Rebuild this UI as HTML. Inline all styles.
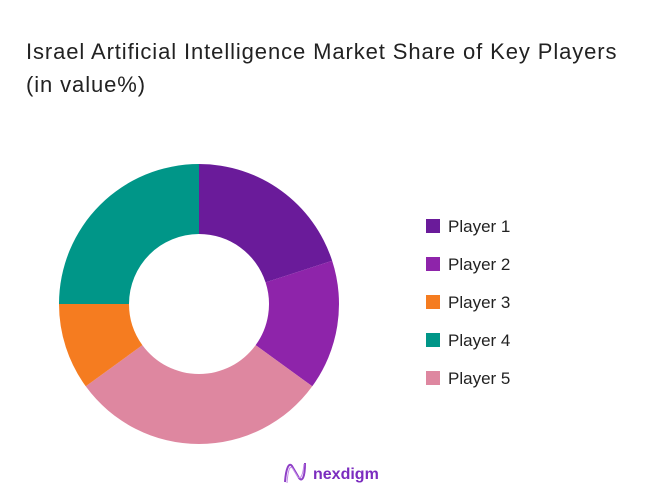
<!DOCTYPE html>
<html><head><meta charset="utf-8">
<style>
body{margin:0;width:656px;height:494px;background:#fff;font-family:"Liberation Sans",sans-serif;overflow:hidden;position:relative}
.title{position:absolute;left:26px;top:35px;font-size:22px;line-height:33px;color:#222;letter-spacing:0.9px}
</style></head><body>
<div class="title">Israel Artificial Intelligence Market Share of Key Players<br>(in value%)</div>
<svg id="chart" width="656" height="494" style="position:absolute;left:0;top:0"></svg>
<script>
const labels=["Player 1","Player 2","Player 5","Player 3","Player 4"];
const values=[20,15,30,10,25];
const colors=["#6a1b9a","#8e24aa","#de87a0","#f57c20","#009688"];
const legendLabels=["Player 1","Player 2","Player 3","Player 4","Player 5"];
const legendColors=["#6a1b9a","#8e24aa","#f57c20","#009688","#de87a0"];
const NS="http://www.w3.org/2000/svg";
const svg=document.getElementById('chart');
const cx=199,cy=304,R=140,r=70;
const total=values.reduce((a,b)=>a+b,0);
let a0=0;
function pt(rad,ang){return [cx+rad*Math.sin(ang),cy-rad*Math.cos(ang)];}
values.forEach((v,i)=>{
  const a1=a0+v/total*2*Math.PI;
  const large=(a1-a0)>Math.PI?1:0;
  const [x1,y1]=pt(R,a0),[x2,y2]=pt(R,a1),[x3,y3]=pt(r,a1),[x4,y4]=pt(r,a0);
  const p=document.createElementNS(NS,'path');
  p.setAttribute('d',`M${x1},${y1}A${R},${R} 0 ${large} 1 ${x2},${y2}L${x3},${y3}A${r},${r} 0 ${large} 0 ${x4},${y4}Z`);
  p.setAttribute('fill',colors[i]);
  
  
  svg.appendChild(p);
  a0=a1;
});
legendLabels.forEach((l,i)=>{
  const y=227+i*38;
  const g=document.createElementNS(NS,'g');
  
  
  const rc=document.createElementNS(NS,'rect');
  rc.setAttribute('x',426);rc.setAttribute('y',y-8);rc.setAttribute('width',14);rc.setAttribute('height',14);
  rc.setAttribute('fill',legendColors[i]);
  const t=document.createElementNS(NS,'text');
  t.setAttribute('x',448);t.setAttribute('y',y+5);t.setAttribute('font-size',17);t.setAttribute('fill','#222');
  t.setAttribute('font-family','Liberation Sans, sans-serif');
  t.textContent=l;
  g.appendChild(rc);g.appendChild(t);svg.appendChild(g);
});
</script>
<svg width="110" height="30" style="position:absolute;left:280px;top:458px">
<path d="M5 24 C6 10,9 4,12 8 L19 20 C22 24,25 20,25 5" fill="none" stroke="#8e3fc6" stroke-width="2"/>
<path d="M7 25 C8 12,10 6,13 11 L18 19 C21 22,23 16,24 6" fill="none" stroke="#c38ae8" stroke-width="1"/>
<text x="33" y="21" font-size="16" font-weight="bold" fill="#7b2cbf" font-family="Liberation Sans, sans-serif">nexdigm</text>
</svg>
</body></html>
